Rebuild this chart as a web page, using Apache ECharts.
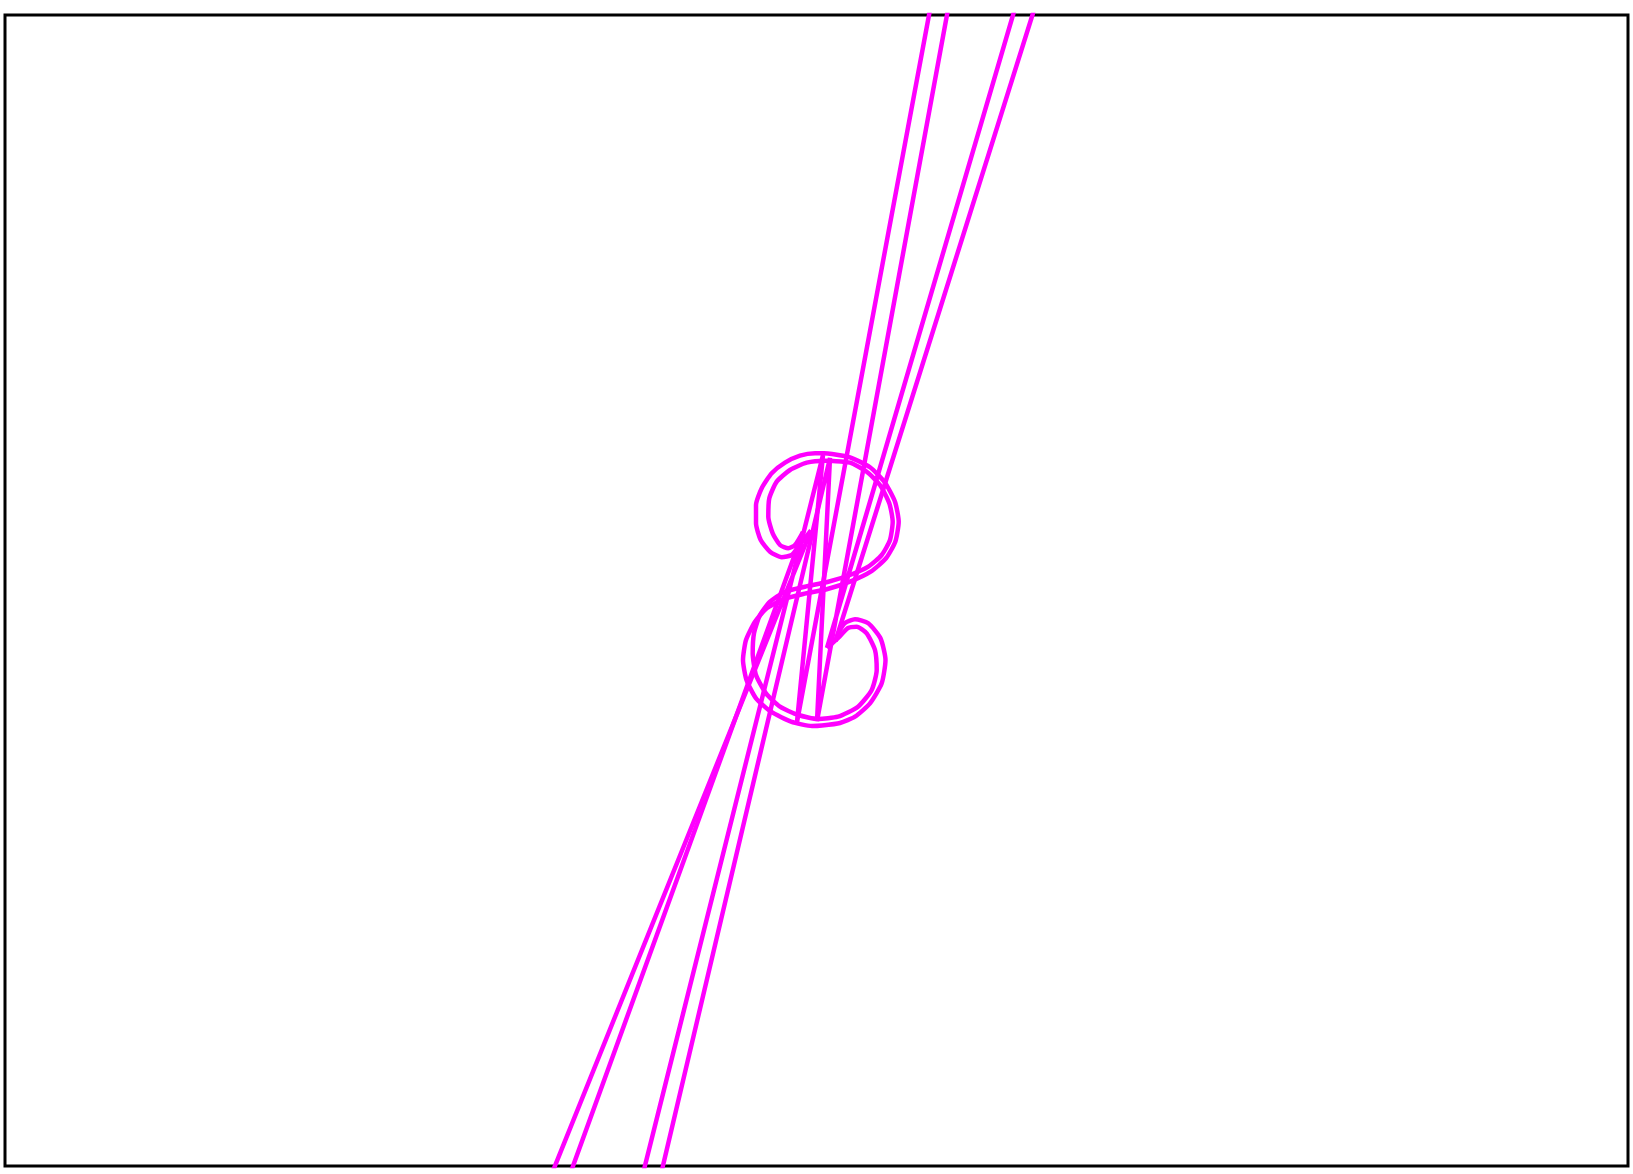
<!DOCTYPE html>
<html>
<head>
<meta charset="utf-8">
<script src="https://cdn.jsdelivr.net/npm/echarts@6/dist/echarts.min.js"></script>
<style>
html,body{margin:0;padding:0;background:#fff;}
#chart{width:1633px;height:1174px;}
</style>
</head>
<body>
<div id="chart"></div>
<script>
// Copy A (outer contour): curved part, from upper spike tip to lower spike tip
var curveA = [
  [811,530.5],
  [798.3,546.7],[791.7,555],[781.7,557.3],[770,551.7],[760.7,540],[756,523.3],[756,505],
  [761.7,488.3],[771.7,473.3],[785,462.7],[800,455.7],[815,453.3],[824,453.3],
  [832,454],[850,457.3],[870,467.3],[885,482.7],[895,501.7],[898.7,521.7],[895.3,541.7],
  [886,558.3],[870.7,571.7],[850,581.7],[826.7,589.3],[803.3,594],[783.3,599.3],[766.7,608.3],
  [755,621.7],[746,640],[743,660],[746.5,680],[756,698.3],[771,711.7],[791,721.7],[812,726],[822,725.5],
  [840,723],[855,716.7],[870,703.3],[881.7,683.3],[885.5,660],[880.5,638.3],[868.3,623.3],
  [855,619.3],[845,623],[839,632],[835.5,641]
];
// Copy A straight strokes: lower tip -> far top-right points -> bottom joint -> top joint -> far bottom-left points -> upper tip
var strokesA = [
  [835.5,641],[1981,-3000],[1492,-3000],[797,722],[823,455],[-65,4000],[-587,4000],[811,530.5]
];
// Copy B (inner contour)
var curveB = [
  [803,532],
  [795,545],[788.3,548.3],[780,545],[772.7,533.3],[768.3,516.7],[769.3,498.3],[776.7,481.7],
  [790,470],[806.7,462.7],[825,460.7],
  [833,461],[850,462.7],[866.7,471.7],[880,485],[889.3,503.3],[892.7,521.7],[890,540],
  [881.7,555],[868.3,566.7],[850,575],[828.3,581.7],[805,586.7],[785,591.7],[770,601.7],
  [760,615],[754,633.3],[752.7,653.3],[756,675],[766,693.3],[780,706.7],[798.3,715],[818,719],
  [838,716.7],[858,706.7],[871.7,690],[876.7,670],[875,650],[866.7,633.3],[856.7,626.7],
  [848,628],[840,636],[827,648]
];
var strokesB = [
  [827,648],[1899,-3000],[1502,-3000],[817,721],[830,458],[-6,4000],[-455,4000],[803,532]
];

var chart = echarts.init(document.getElementById('chart'), null, {renderer:'canvas'});
var lineStyle = {color:'#ff00ff', width:4.5};
function curve(d){ return {type:'line', data:d, showSymbol:false, clip:true, smooth:0.2, lineStyle:lineStyle, z:2}; }
function stroke(d){ return {type:'line', data:d, showSymbol:false, clip:true, smooth:false, lineStyle:lineStyle, z:2}; }
chart.setOption({
  animation:false,
  backgroundColor:'#ffffff',
  grid:{left:5, right:5, top:15, bottom:8, show:true, borderColor:'#000000', borderWidth:3, backgroundColor:'transparent'},
  xAxis:{type:'value', min:5, max:1628, show:false},
  yAxis:{type:'value', min:15, max:1166, inverse:true, show:false},
  series:[curve(curveA), stroke(strokesA), curve(curveB), stroke(strokesB)]
});
</script>
</body>
</html>
